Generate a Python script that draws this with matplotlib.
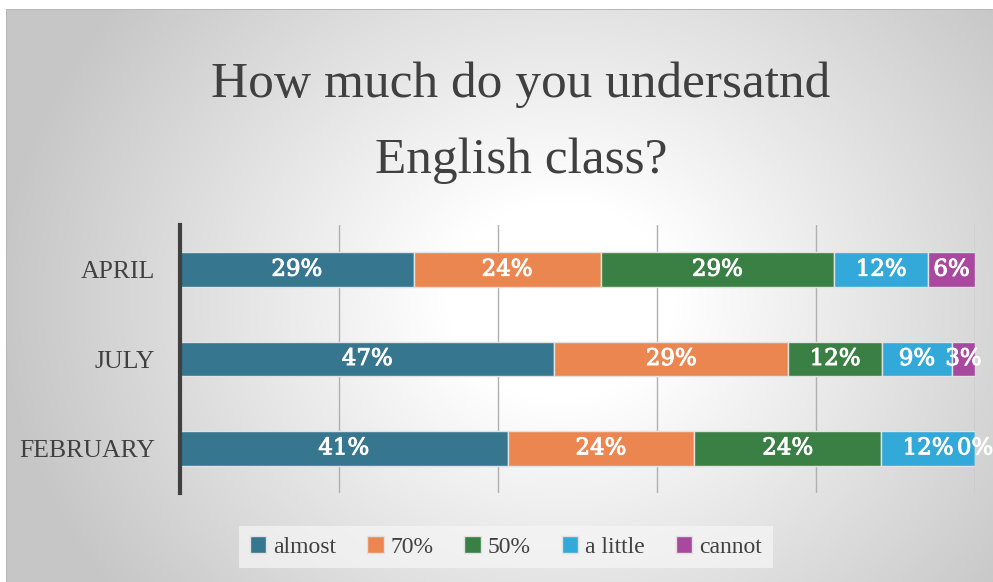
import numpy as np
import matplotlib
matplotlib.use('Agg')
import matplotlib.pyplot as plt
import matplotlib.patheffects as pe
from matplotlib.patches import Patch

# Datos (porcentaje de alumnos)
months = ['APRIL', 'JULY', 'FEBRUARY']
series = ['almost', '70%', '50%', 'a little', 'cannot']
almost = [29.4, 47.1, 41.2]
p70 = [23.5, 29.4, 23.5]
p50 = [29.4, 11.8, 23.5]
a_little = [11.8, 8.8, 11.8]
cannot = [5.9, 2.9, 0.0]
colors = ['#37768F', '#EC8650', '#3A7F44', '#32A9D9', '#A8489E']

title_1 = 'How much do you undersatnd'
title_2 = 'English class?'

serif = ['Liberation Serif', 'DejaVu Serif']
text_gray = '#404040'

W, H = 993, 582
fig = plt.figure(figsize=(W / 100, H / 100), dpi=100)

# Fondo con degradado radial (blanco en el centro, gris en los bordes)
yy, xx = np.mgrid[0:H, 0:W]
d = np.sqrt(((xx - 560) / 520.0) ** 2 + ((yy - 300) / 450.0) ** 2)
t = np.clip((d - 0.22) / 0.85, 0, 1)
shade = 1.0 - t * (1.0 - 0.78)
img = np.dstack([shade, shade, shade])
img[:9, :, :] = 1.0
img[:, :6, :] = 1.0
img[9, 6:, :] = 0.72
img[9:, 6, :] = 0.72
bg = fig.add_axes([0, 0, 1, 1], zorder=-10)
bg.imshow(img, aspect='auto', interpolation='bilinear')
bg.axis('off')

# Ejes principales
ax = fig.add_axes([180 / W, 89 / H, 795 / W, 268 / H])
ax.set_facecolor('none')

# Trazo fino para dar peso medio a las etiquetas
medium = [pe.withStroke(linewidth=0.7, foreground='white')]

y = np.arange(len(months))
data = [almost, p70, p50, a_little, cannot]
left = np.zeros(len(months))
for name, vals, col in zip(series, data, colors):
    vals = np.array(vals)
    bars = ax.barh(y, vals, left=left, height=0.39, color=col,
                   edgecolor='#e2e2e2', linewidth=1, label=name, zorder=3)
    for b, v in zip(bars, vals):
        ax.text(b.get_x() + b.get_width() / 2, b.get_y() + b.get_height() / 2,
                '{:.0f}%'.format(v), ha='center', va='center', color='white',
                fontsize=16.5, family=['DejaVu Serif'], path_effects=medium,
                zorder=4)
    left += vals

ax.set_xlim(0, 100)
ax.set_ylim(2.5, -0.5)
ax.set_xticks([20, 40, 60, 80, 100])
ax.set_xticklabels([])
ax.tick_params(axis='x', length=0)
ax.grid(axis='x', color='#b0b0b0', linewidth=1.0, zorder=0)
ax.set_yticks(y)
ax.set_yticklabels(months, family=serif, fontsize=18.5, color=text_gray)
ax.tick_params(axis='y', length=0, pad=18)
for s in ['top', 'right', 'bottom']:
    ax.spines[s].set_visible(False)
ax.spines['left'].set_color('#404040')
ax.spines['left'].set_linewidth(3)
ax.spines['left'].set_zorder(5)

# Título
fig.text(521 / W, 1 - 97 / H, title_1, ha='center', va='baseline',
         family=serif, fontsize=37, color=text_gray)
fig.text(521 / W, 1 - 173 / H, title_2, ha='center', va='baseline',
         family=serif, fontsize=37, color=text_gray)

# Leyenda
handles = [Patch(facecolor=c, edgecolor='#e0e0e0', label=s)
           for s, c in zip(series, colors)]
leg = fig.legend(handles=handles, loc='center', ncol=5,
                 bbox_to_anchor=(506 / W, 1 - 547 / H),
                 prop={'family': serif, 'size': 17},
                 handlelength=0.7, handleheight=0.7, handletextpad=0.3,
                 columnspacing=1.3, borderpad=0.45, frameon=True,
                 fancybox=False)
leg.get_frame().set_facecolor('#f6f6f6')
leg.get_frame().set_edgecolor('none')
leg.get_frame().set_alpha(0.7)
for txt in leg.get_texts():
    txt.set_color(text_gray)

fig.savefig('out.png', dpi=100)
